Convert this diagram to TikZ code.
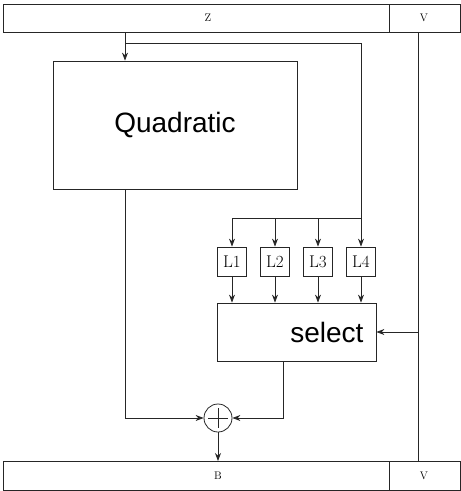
\documentclass[tikz,border=0pt]{standalone}
\usepackage{fontspec}
\newfontfamily\sansf{Liberation Sans}
\usetikzlibrary{arrows.meta}
\begin{document}
\begin{tikzpicture}[x=1pt,y=-1pt,
  line/.style={draw=black!85, line width=0.8pt},
  arr/.style={line, -{Stealth[length=8pt,width=6pt]}},
  bar/.style={line, fill=white},
  lbl/.style={font=\fontsize{11}{13}\selectfont},
  lbox/.style={line, minimum width=29pt, minimum height=29pt, inner sep=0pt, font=\fontsize{17}{19}\selectfont},
  big/.style={font=\sansf\fontsize{28}{32}\selectfont}]
\useasboundingbox (0,0) rectangle (461,491);
% top bar
\draw[bar] (3,4) rectangle (389,32);
\draw[bar] (389,4) rectangle (460,32);
\node[lbl] (z) at (208,18) {Z};
\node[lbl] (vt) at (424,18) {V};
% bottom bar
\draw[bar] (3,461) rectangle (389,490);
\draw[bar] (389,461) rectangle (460,490);
\node[lbl] (b) at (218,476) {B};
\node[lbl] (vb) at (424,476) {V};
\coordinate (bTop) at (218,461);
\coordinate (zb) at (125,32);
% Quadratic
\node[line, minimum width=244pt, minimum height=128pt, inner sep=0pt, big] (quad) at (175,125) {Quadratic};
% L boxes
\node[lbox] (l1) at (232,261.5) {L1};
\node[lbox] (l2) at (275,261.5) {L2};
\node[lbox] (l3) at (318,261.5) {L3};
\node[lbox] (l4) at (361,261.5) {L4};
% select
\node[line, minimum width=159pt, minimum height=58pt, inner sep=0pt] (sel) at (296.5,332) {};
\node[big, anchor=east] (seltxt) at (367,332) {select};
% plus
\node[line, circle, minimum size=28pt, inner sep=0pt] (plus) at (218,418) {};
\draw[line] (plus.center) ++(0,-10) -- ++(0,20);
\draw[line] (plus.center) ++(-10,0) -- ++(20,0);
% connectors
\draw[arr] (zb) -- (quad.north -| zb);
\coordinate (br) at (125,43);
\coordinate (brr) at (361,43);
\coordinate (lrow) at (361,218);
\draw[line] (br) -- (brr) -- (lrow);
\draw[line] (l1 |- lrow) -- (lrow);
\foreach \n in {l1,l2,l3,l4} {
  \draw[arr] (\n |- lrow) -- (\n.north);
  \draw[arr] (\n.south) -- (\n |- sel.north);
}
\coordinate (vtop) at (418,32);
\coordinate (vbot) at (418,461);
\draw[line] (vtop) -- (vbot);
\draw[arr] (vtop |- sel.east) -- (sel.east);
\coordinate (qdown) at (125,418);
\draw[arr] (quad.south -| qdown) -- (qdown) -- (plus.west);
\coordinate (sdown) at (283,418);
\draw[arr] (sel.south -| sdown) -- (sdown) -- (plus.east);
\draw[arr] (plus.south) -- (bTop);
\end{tikzpicture}
\end{document}
